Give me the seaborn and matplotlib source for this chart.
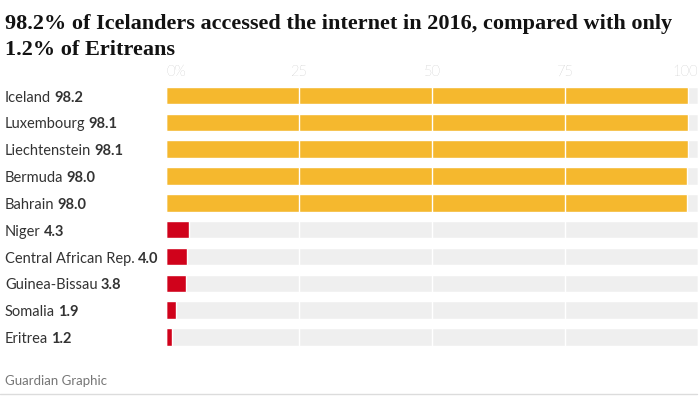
import matplotlib
matplotlib.use('Agg')
import matplotlib.pyplot as plt
import matplotlib.transforms as mtransforms
import pandas as pd
import seaborn as sns

# Data
countries = ['Iceland', 'Luxembourg', 'Liechtenstein', 'Bermuda', 'Bahrain',
             'Niger', 'Central African Rep.', 'Guinea-Bissau', 'Somalia', 'Eritrea']
internet_pct = [98.2, 98.1, 98.1, 98.0, 98.0, 4.3, 4.0, 3.8, 1.9, 1.2]
group = ['top', 'top', 'top', 'top', 'top',
         'bottom', 'bottom', 'bottom', 'bottom', 'bottom']
tick_values = [0, 25, 50, 75, 100]
tick_labels = ['0%', '25', '50', '75', '100']

title = ('98.2% of Icelanders accessed the internet in 2016, compared with only\n'
         '1.2% of Eritreans')
source = 'Guardian Graphic'

df = pd.DataFrame({'country': countries, 'pct': internet_pct, 'group': group})
df['full'] = 100

sns.set_theme(style='white')
plt.rcParams['font.family'] = ['Lato', 'DejaVu Sans']

W, H = 700, 397
fig = plt.figure(figsize=(7, 3.97), dpi=100)
ax = fig.add_axes([166 / W, 1 - 350.4 / H, 532 / W, (350.4 - 82) / H])

# grey background track
sns.barplot(data=df, y='country', x='full', color='#efefef',
            width=0.65, ax=ax, saturation=1)
# actual values
sns.barplot(data=df, y='country', x='pct', hue='group', dodge=False,
            palette={'top': '#f5b82e', 'bottom': '#d0021b'},
            width=0.65, legend=False, ax=ax, saturation=1)

ax.set_xlim(0, 100)
ax.set_xlabel('')
ax.set_ylabel('')
ax.set_yticks([])
for s in ax.spines.values():
    s.set_visible(False)

ax.set_xticks(tick_values)
ax.set_xticklabels(tick_labels)
ax.tick_params(axis='x', top=True, labeltop=True, bottom=False,
               labelbottom=False, length=0, pad=2,
               labelcolor='#a0a0a0', labelsize=10.5)
for lab in ax.get_xticklabels():
    lab.set_fontweight('light')
ax.get_xticklabels()[0].set_ha('left')
ax.get_xticklabels()[-1].set_ha('right')

ax.grid(axis='x', color='white', lw=1)
ax.set_axisbelow(False)

# country name + bold value
trans = mtransforms.blended_transform_factory(fig.transFigure, ax.transData)
for i, (name, val) in enumerate(zip(countries, internet_pct)):
    t = ax.text(5 / W, i + 0.08, name, transform=trans, ha='left', va='center',
                fontsize=10.5, color='#333333')
    ax.annotate(f'{val:.1f}', xy=(1, 0), xycoords=t, xytext=(2.2, 0),
                textcoords='offset points', ha='left', va='bottom',
                fontsize=10.5, fontweight='bold', color='#333333')

fig.text(5 / W, 1 - 14 / H, title, ha='left', va='top',
         fontsize=16, fontweight='bold', color='#121212',
         family=['Liberation Serif', 'DejaVu Serif'], linespacing=1.4)

fig.text(5 / W, 1 - 381 / H, source, ha='left', va='center',
         fontsize=9.5, color='#767676')

fig.add_artist(plt.Line2D([0, 697 / W], [1 - 394 / H, 1 - 394 / H],
                          transform=fig.transFigure, color='#dcdcdc', lw=1))

fig.savefig('out.png', dpi=100, facecolor='white')
